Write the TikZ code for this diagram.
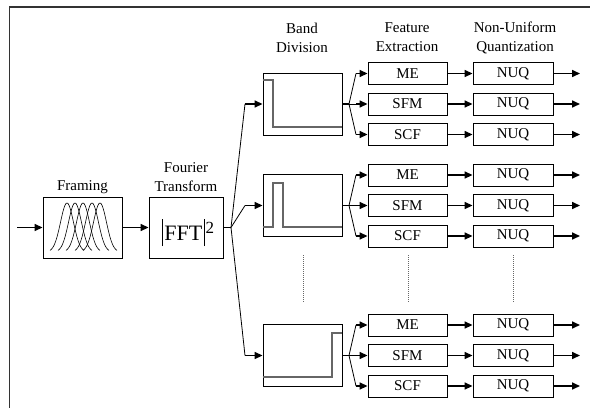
\documentclass[tikz,border=0pt]{standalone}
\usepackage{fontspec}
\setmainfont{Liberation Serif}
\usetikzlibrary{arrows.meta}
\begin{document}
\begin{tikzpicture}[x=1pt,y=-1pt,
  blk/.style={draw, line width=0.9pt, inner sep=0pt, font=\fontsize{15}{17}\selectfont},
  big/.style={blk, minimum width=79pt, minimum height=61pt},
  feat/.style={blk, minimum width=79pt, minimum height=22pt},
  quant/.style={blk, minimum width=80pt, minimum height=22pt},
  lbl/.style={align=center, inner sep=0pt, font=\fontsize{15}{19}\selectfont},
  arr/.style={line width=1.6pt, -{Triangle[length=8pt,width=7pt]}},
  thinln/.style={line width=0.8pt},
  spec/.style={draw=black!60, line width=1.1pt},
  dots/.style={draw=black!60, line width=0.6pt, dash pattern=on 1pt off 1pt}]
\useasboundingbox (0,0) rectangle (590,408);
% frame
\draw[black!80, line width=1.3pt] (590,7) -- (9.5,7) -- (9.5,408);

% labels
\node[lbl] (lfr) at (82.5,187) {Framing};
\node[lbl] (lft) at (186,177.5) {Fourier\\Transform};
\node[lbl] (lbd) at (302,37.5) {Band\\Division};
\node[lbl] (lfe) at (407,37.5) {Feature\\Extraction};
\node[lbl] (lnu) at (515,37.5) {Non-Uniform\\Quantization};

% framing and FFT
\node[big] (fr) at (82.5,227.5) {};
\node[big, minimum width=74pt] (fft) at (186,227.5) {};
\node[inner sep=0pt] (fftt) at (188,232.5)
  {\fontsize{22}{22}\selectfont\rule[-6pt]{1pt}{27pt}\kern1.5pt FFT\kern1.5pt\rule[-6pt]{1pt}{27pt}\kern1pt\raisebox{7pt}{\fontsize{17}{17}\selectfont 2}};
\foreach \p in {67,75,83,92,100}
  \draw[line width=0.6pt] plot[domain=-17:17, samples=40, smooth] ({\p+\x},{252-49*exp(-((\x/6.5)^2)/2)});

\coordinate (src) at (17,227.5);
\draw[arr] (src) -- (fr.west);
\draw[arr] (fr.east) -- (fft.west);
\coordinate (fo) at (231,227.5);
\draw[thinln] (fft.east) -- (fo);

\foreach \g/\yc in {1/104,2/205.5,3/355.5} {
  \node[big, minimum height=62pt] (b\g) at (302.5,\yc) {};
  \coordinate (fi\g) at (245,\yc);
  \draw[thinln] (fo) -- (fi\g);
  \draw[arr] (fi\g) -- (b\g.west);
  \coordinate (bo\g) at (349,\yc);
  \draw[arr, -] (b\g.east) -- (bo\g);
  \foreach \k/\t/\dy in {1/ME/-30.5,2/SFM/0,3/SCF/30.5} {
    \node[feat] (f\g\k) at (407.5,{\yc+\dy}) {\t};
    \node[quant] (q\g\k) at (513,{\yc+\dy}) {NUQ};
    \coordinate (fk\g\k) at (356,{\yc+\dy});
    \coordinate (out\g\k) at (580,{\yc+\dy});
    \draw[thinln] (bo\g) -- (fk\g\k);
    \draw[arr] (fk\g\k) -- (f\g\k.west);
    \draw[arr] (f\g\k.east) -- (q\g\k.west);
    \draw[arr] (q\g\k.east) -- (out\g\k);
  }
}

% spectra inside band boxes
\draw[spec] (b1.west |- 0,80) -- (273,80) -- (273,127) -- (b1.east |- 0,127);
\draw[spec] (b2.west |- 0,227) -- (273,227) -- (273,183) -- (283,183) -- (283,227) -- (b2.east |- 0,227);
\draw[spec] (b3.west |- 0,377) -- (332,377) -- (332,333) -- (b3.east |- 0,333);

% continuation dots
\foreach \x in {303,408,513}
  \draw[dots] (\x,255) -- (\x,302);
\end{tikzpicture}
\end{document}
